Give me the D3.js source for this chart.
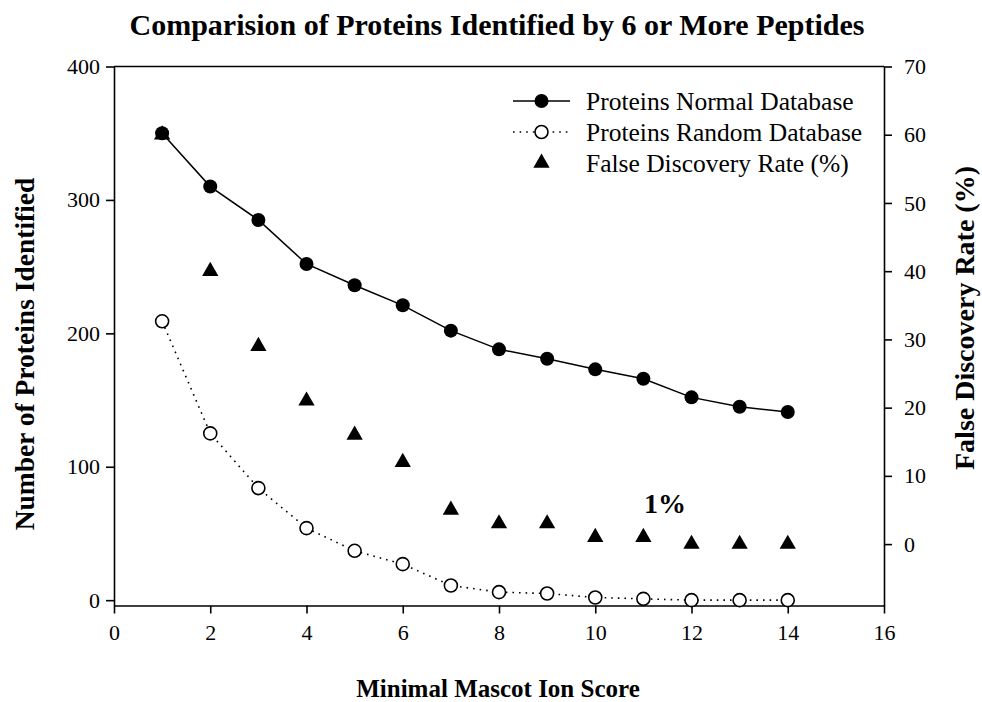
<!DOCTYPE html>
<html>
<head>
<meta charset="utf-8">
<script src="https://cdn.jsdelivr.net/npm/d3@7"></script>
<style>
  body { margin: 0; background: #fff; }
  svg text { font-family: "Liberation Serif", "Times New Roman", serif; fill: #000; }
</style>
</head>
<body>
<script>
// minimal mascot ion score
const scores = [1, 2, 3, 4, 5, 6, 7, 8, 9, 10, 11, 12, 13, 14];
// proteins found against the normal database
const normalDb = [350, 310, 285, 252, 236, 221, 202, 188, 181, 173, 166, 152, 145, 141];
// proteins found against the random (decoy) database
const randomDb = [209, 125, 84, 54, 37, 27, 11, 6, 5, 2, 1, 0, 0, 0];
// false discovery rate in %
const fdr = [60, 40, 29, 21, 16, 12, 5, 3, 3, 1, 1, 0, 0, 0];

const xTicks = [0, 2, 4, 6, 8, 10, 12, 14, 16];
const leftTicks = [0, 100, 200, 300, 400];
const rightTicks = [0, 10, 20, 30, 40, 50, 60, 70];
const legendLabels = ["Proteins Normal Database", "Proteins Random Database", "False Discovery Rate (%)"];

const W = 982, H = 702;
const margin = {top: 66.5, right: 98, bottom: 96.5, left: 114};
const w = W - margin.left - margin.right;
const h = H - margin.top - margin.bottom;

const svg = d3.select("body").append("svg").attr("width", W).attr("height", H);
const g = svg.append("g").attr("transform", `translate(${margin.left},${margin.top})`);

const x = d3.scaleLinear().domain([0, 16]).range([0, w]);
const yL = d3.scaleLinear().domain([-4, 400]).range([h, 0]);
const yR = d3.scaleLinear().domain([-9, 70]).range([h, 0]);

// axes
const xAxis = g.append("g").attr("transform", `translate(0,${h})`)
  .call(d3.axisBottom(x).tickValues(xTicks).tickSizeInner(8).tickSizeOuter(0).tickPadding(11));
const lAxis = g.append("g")
  .call(d3.axisLeft(yL).tickValues(leftTicks).tickSizeInner(8).tickSizeOuter(0).tickPadding(6));
const rAxis = g.append("g").attr("transform", `translate(${w},0)`)
  .call(d3.axisRight(yR).tickValues(rightTicks).tickSizeInner(8).tickSizeOuter(0).tickPadding(12));

[xAxis, lAxis, rAxis].forEach(a => {
  a.selectAll("path, line").attr("stroke", "#000").attr("stroke-width", 1.6);
  a.selectAll("text").style("font-size", "22px").attr("fill", "#000");
});
xAxis.selectAll("text").attr("dy", "0.71em");

// top frame line
g.append("line").attr("x1", 0).attr("x2", w).attr("y1", 0).attr("y2", 0)
  .attr("stroke", "#000").attr("stroke-width", 1.6);

// lines
const seriesLine = d3.line().x((d, i) => x(scores[i])).y(d => yL(d));
g.append("path").datum(normalDb).attr("d", seriesLine)
  .attr("fill", "none").attr("stroke", "#000").attr("stroke-width", 1.5);
g.append("path").datum(randomDb).attr("d", seriesLine)
  .attr("fill", "none").attr("stroke", "#000").attr("stroke-width", 1.6)
  .attr("stroke-dasharray", "1.6,5");

// triangles (fdr, right axis)
const tri = d3.symbol().type(d3.symbolTriangle).size(115);
g.selectAll(".tri").data(fdr).join("path")
  .attr("transform", (d, i) => `translate(${x(scores[i])},${yR(d)})`)
  .attr("d", tri).attr("fill", "#000");

// normal circles
g.selectAll(".nc").data(normalDb).join("circle")
  .attr("cx", (d, i) => x(scores[i])).attr("cy", d => yL(d)).attr("r", 7)
  .attr("fill", "#000");

// random circles
g.selectAll(".rc").data(randomDb).join("circle")
  .attr("cx", (d, i) => x(scores[i])).attr("cy", d => yL(d)).attr("r", 6.5)
  .attr("fill", "#fff").attr("stroke", "#000").attr("stroke-width", 1.6);

// annotation
g.append("text").attr("x", x(11.45)).attr("y", yR(4.5))
  .attr("text-anchor", "middle").style("font-size", "28px").style("font-weight", "bold")
  .text("1%");

// legend
const leg = svg.append("g").attr("transform", "translate(513,101)");
const rowH = 31;
legendLabels.forEach((lab, i) => {
  const row = leg.append("g").attr("transform", `translate(0,${i * rowH})`);
  if (i === 0) {
    row.append("line").attr("x1", 0).attr("x2", 57).attr("stroke", "#000").attr("stroke-width", 1.5);
    row.append("circle").attr("cx", 28.5).attr("r", 7).attr("fill", "#000");
  } else if (i === 1) {
    row.append("line").attr("x1", 0).attr("x2", 57).attr("stroke", "#000")
      .attr("stroke-width", 1.6).attr("stroke-dasharray", "1.6,5");
    row.append("circle").attr("cx", 28.5).attr("r", 6.5)
      .attr("fill", "#fff").attr("stroke", "#000").attr("stroke-width", 1.6);
  } else {
    row.append("path").attr("transform", "translate(28.5,0)").attr("d", tri).attr("fill", "#000");
  }
  row.append("text").attr("x", 73).attr("dy", "0.35em")
    .style("font-size", "25.5px").text(lab);
});

// title and axis titles
svg.append("text").attr("x", 497).attr("y", 35).attr("text-anchor", "middle")
  .style("font-size", "30px").style("font-weight", "bold")
  .text("Comparision of Proteins Identified by 6 or More Peptides");

svg.append("text").attr("x", 498).attr("y", 697).attr("text-anchor", "middle")
  .style("font-size", "25px").style("font-weight", "bold")
  .text("Minimal Mascot Ion Score");

svg.append("text").attr("transform", "translate(34,354) rotate(-90)")
  .attr("text-anchor", "middle").style("font-size", "27.5px").style("font-weight", "bold")
  .text("Number of Proteins Identified");

svg.append("text").attr("transform", "translate(974,318) rotate(-90)")
  .attr("text-anchor", "middle").style("font-size", "28px").style("font-weight", "bold")
  .text("False Discovery Rate (%)");
</script>
</body>
</html>
